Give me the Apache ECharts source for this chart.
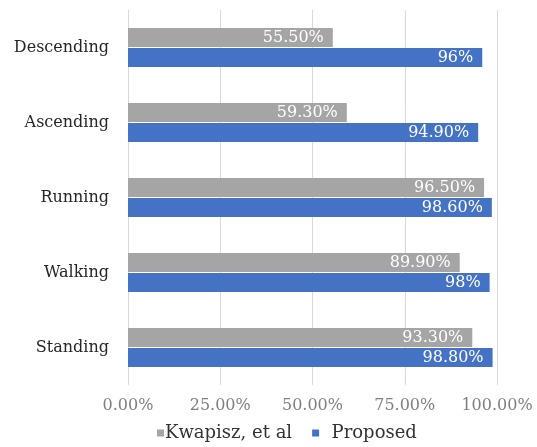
<!DOCTYPE html>
<html>
<head>
<meta charset="utf-8">
<script src="https://cdn.jsdelivr.net/npm/echarts@6/dist/echarts.min.js"></script>
<style>
  html, body { margin: 0; padding: 0; background: #ffffff; }
  #chart { width: 537px; height: 447px; }
</style>
</head>
<body>
<div id="chart"></div>
<script>
// Activity categories, bottom to top
const activities = ['Standing', 'Walking', 'Running', 'Ascending', 'Descending'];
// Recognition accuracy (%) per activity
const kwapisz = [93.3, 89.9, 96.5, 59.3, 55.5];
const proposed = [98.8, 98, 98.6, 94.9, 96];
// Labels printed on the bars
const kwapiszLabels = ['93.30%', '89.90%', '96.50%', '59.30%', '55.50%'];
const proposedLabels = ['98.80%', '98%', '98.60%', '94.90%', '96%'];
const seriesNames = ['Kwapisz, et al', 'Proposed'];

const FONT = 'DejaVu Serif';
const chart = echarts.init(document.getElementById('chart'), null, { renderer: 'canvas' });

function barLabel(texts) {
  return {
    show: true,
    position: 'insideRight',
    distance: 9,
    color: '#ffffff',
    fontFamily: FONT,
    fontSize: 16,
    formatter: p => texts[p.dataIndex]
  };
}

chart.setOption({
  animation: false,
  textStyle: { fontFamily: FONT },
  grid: { left: 128, right: 40, top: 10, bottom: 62, containLabel: false },
  legend: {
    data: seriesNames,
    bottom: 0,
    left: 152,
    icon: 'rect',
    itemWidth: 7,
    itemHeight: 7,
    itemGap: 20,
    formatter: name => (name === seriesNames[1] ? '  ' + name : name),
    textStyle: { fontFamily: FONT, fontSize: 18, color: '#333333', padding: [0, 0, 0, -4] }
  },
  xAxis: {
    type: 'value',
    min: 0,
    max: 100,
    interval: 25,
    axisLine: { show: false },
    axisTick: { show: false },
    splitLine: { lineStyle: { color: '#d9d9d9', width: 1 } },
    axisLabel: {
      fontFamily: FONT,
      fontSize: 16,
      color: '#7f7f7f',
      margin: 13,
      formatter: v => v.toFixed(2) + '%'
    }
  },
  yAxis: {
    type: 'category',
    data: activities,
    axisLine: { show: false },
    axisTick: { show: false },
    axisLabel: { fontFamily: FONT, fontSize: 16, color: '#262626', margin: 19 }
  },
  series: [
    {
      name: seriesNames[0],
      type: 'bar',
      data: kwapisz,
      barWidth: 19,
      barGap: '5%',
      itemStyle: { color: '#a5a5a5' },
      label: barLabel(kwapiszLabels)
    },
    {
      name: seriesNames[1],
      type: 'bar',
      data: proposed,
      barWidth: 19,
      barGap: '5%',
      itemStyle: { color: '#4472c4' },
      label: barLabel(proposedLabels)
    }
  ]
});
</script>
</body>
</html>
